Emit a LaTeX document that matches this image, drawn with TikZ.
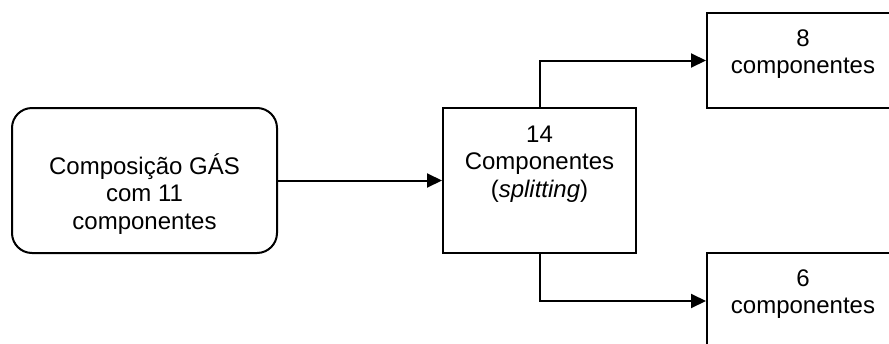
\documentclass[tikz,border=0pt]{standalone}
\usepackage{fontspec}
\setmainfont{Liberation Sans}
\usetikzlibrary{arrows.meta}
\begin{document}
\begin{tikzpicture}[x=0.5pt,y=-0.5pt,
  box/.style={draw=black,line width=1pt,inner sep=0pt},
  lbl/.style={inner sep=0pt,align=center,font=\fontsize{12pt}{13.8pt}\selectfont},
  conn/.style={line width=1pt,-{Triangle[length=7.5pt,width=7pt]}}]
\clip (0,0) rectangle (889,343);
\fill[white] (0,0) rectangle (889,343);
\node[box,rounded corners=10pt,minimum width=132.5pt,minimum height=72.5pt] (src) at (144.5,180.5) {};
\node[box,minimum width=96.5pt,minimum height=72.5pt] (mid) at (539.5,180.5) {};
\node[box,minimum width=143pt,minimum height=47.5pt] (top) at (850,60.5) {};
\node[box,minimum width=143pt,minimum height=48pt] (bot) at (850,301) {};
\node[lbl] (srct) at (144.5,194) {Composição GÁS\\com 11\\componentes};
\node[lbl] (midt) at (539.5,164) {14\\Componentes\\(\textit{splitting})};
\node[lbl] (topt) at (803,54) {8\\componentes};
\node[lbl] (bott) at (803,294) {6\\componentes};
\draw[conn] (src.east) -- (mid.west);
\draw[conn] (mid.north) |- (top.west);
\draw[conn] (mid.south) |- (bot.west);
\end{tikzpicture}
\end{document}
